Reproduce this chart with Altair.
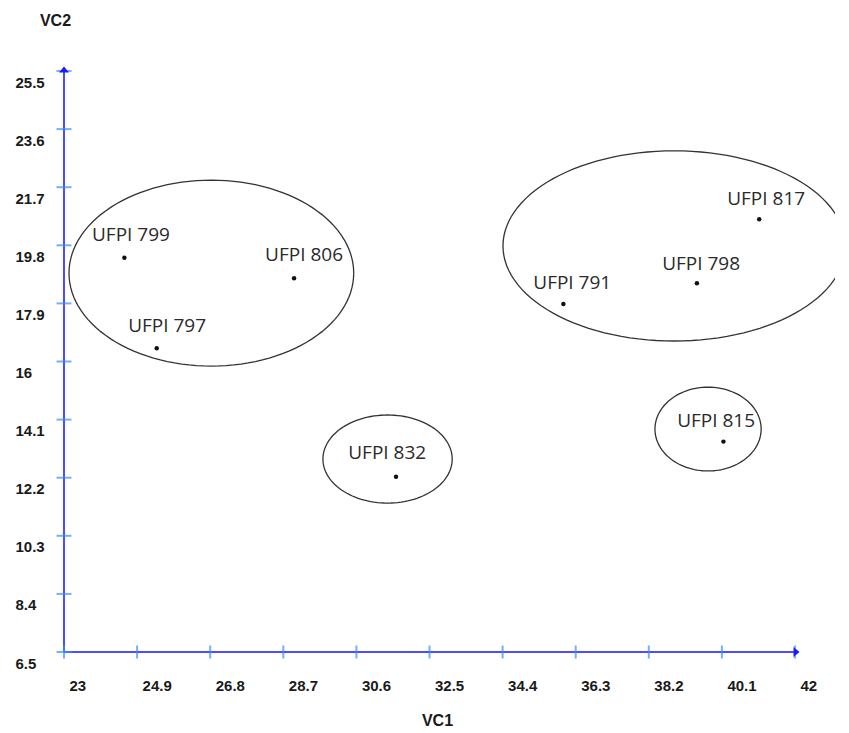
import altair as alt
import pandas as pd
import numpy as np

# ---- data ----
names = ["UFPI 799", "UFPI 806", "UFPI 797", "UFPI 817", "UFPI 798", "UFPI 791", "UFPI 832", "UFPI 815"]
vc1 = [24.57, 28.98, 25.41, 41.07, 39.45, 35.98, 31.63, 40.14]
vc2 = [19.39, 18.72, 16.43, 20.65, 18.56, 17.88, 12.23, 13.38]
label_vc1 = [24.74, 29.24, 25.68, 41.25, 39.56, 36.21, 31.40, 39.95]
label_vc2 = [20.14, 19.48, 17.16, 21.31, 19.19, 18.57, 13.01, 14.05]

ell_cx = [26.83, 38.86, 31.41, 39.74]
ell_cy = [18.89, 19.78, 12.81, 13.79]
ell_rx = [3.70, 4.45, 1.68, 1.38]
ell_ry = [3.04, 3.11, 1.44, 1.37]

x_ticks = [23, 24.9, 26.8, 28.7, 30.6, 32.5, 34.4, 36.3, 38.2, 40.1, 42]
y_ticks = [6.5, 8.4, 10.3, 12.2, 14.1, 16, 17.9, 19.8, 21.7, 23.6, 25.5]

AXIS_BLUE = "#4d4dff"
TICK_BLUE = "#3b8cff"

pts = pd.DataFrame({"name": names, "x": vc1, "y": vc2})
lbl = pd.DataFrame({"name": names, "x": label_vc1, "y": label_vc2})

# ellipse outlines (geometry from centres / radii)
t = np.linspace(0, 2 * np.pi, 121)
rows = []
for i, (cx, cy, rx, ry) in enumerate(zip(ell_cx, ell_cy, ell_rx, ell_ry)):
    for k, tt in enumerate(t):
        rows.append({"id": i, "o": k, "x": cx + rx * np.cos(tt), "y": cy + ry * np.sin(tt)})
ell = pd.DataFrame(rows)

xmin, xmax = x_ticks[0], x_ticks[-1]
ymin, ymax = y_ticks[0], y_ticks[-1]

xs = alt.Scale(domain=[xmin, xmax], nice=False, zero=False)
ys = alt.Scale(domain=[ymin, ymax], nice=False, zero=False)

x_axis = alt.Axis(
    values=x_ticks, format=".1~f", ticks=False, domain=False, grid=False,
    labelAlign="left", labelOffset=5, labelPadding=26, labelFlush=False,
    labelFont="Liberation Sans", labelFontWeight="bold", labelFontSize=15, labelColor="#1a1a1a",
    title="VC1", titleX=373, titleY=68, titleAlign="center", titleBaseline="middle",
    titleFont="Liberation Sans", titleFontWeight="bold", titleFontSize=16, titleColor="#1a1a1a",
)
y_axis = alt.Axis(
    values=y_ticks, format=".1~f", ticks=False, domain=False, grid=False,
    labelAlign="left", labelBaseline="middle", labelOffset=11, labelPadding=49, labelFlush=False,
    labelFont="Liberation Sans", labelFontWeight="bold", labelFontSize=15, labelColor="#1a1a1a",
    title="VC2", titleAngle=0, titleX=-9, titleY=-51, titleAlign="center", titleBaseline="middle",
    titleFont="Liberation Sans", titleFontWeight="bold", titleFontSize=16, titleColor="#1a1a1a",
)

X = alt.X("x:Q", scale=xs, axis=x_axis)
Y = alt.Y("y:Q", scale=ys, axis=y_axis)

ellipses = alt.Chart(ell).mark_line(color="#333333", strokeWidth=1.3, clip=False).encode(
    x=X, y=Y, detail="id:N", order="o:Q",
)

axis_lines = pd.DataFrame({"x": [xmin, xmin], "x2": [xmax, xmin], "y": [ymin, ymin], "y2": [ymin, ymax]})
rules = alt.Chart(axis_lines).mark_rule(color=AXIS_BLUE, strokeWidth=2, clip=False).encode(
    x=X, x2="x2:Q", y=Y, y2="y2:Q",
)

xt = pd.DataFrame({"x": x_ticks, "y": [ymin] * len(x_ticks)})
yt = pd.DataFrame({"x": [xmin] * len(y_ticks), "y": y_ticks})
xticks = alt.Chart(xt).mark_tick(orient="vertical", size=13, thickness=2, color=TICK_BLUE, clip=False).encode(
    x=X, y=Y)
yticks = alt.Chart(yt).mark_tick(orient="horizontal", size=15, thickness=2, color=TICK_BLUE, clip=False).encode(
    x=X, y=Y)

arrow_up = alt.Chart(pd.DataFrame({"x": [xmin], "y": [ymax]})).mark_point(
    shape="M -1 0.3 L 0 -0.9 L 1 0.3 Z", size=100, filled=True, color="#1a1aff", opacity=1, clip=False
).encode(x=X, y=Y)
arrow_right = alt.Chart(pd.DataFrame({"x": [xmax], "y": [ymin]})).mark_point(
    shape="M -0.3 -1 L 0.9 0 L -0.3 1 Z", size=100, filled=True, color="#1a1aff", opacity=1, clip=False
).encode(x=X, y=Y)

points = alt.Chart(pts).mark_circle(size=20, color="#111111", opacity=1).encode(x=X, y=Y)

labels = alt.Chart(lbl).mark_text(
    font="Open Sans", fontSize=19, color="#2a2a2a", align="center", baseline="middle", clip=False
).encode(x=X, y=Y, text="name:N")

chart = alt.layer(
    ellipses, rules, xticks, yticks, arrow_up, arrow_right, points, labels
).properties(
    width=731, height=581,
    padding={"left": 56, "top": 63, "right": 40, "bottom": 80},
    autosize=alt.AutoSizeParams(type="none"),
    background="white",
).configure_view(stroke=None)

chart.save("out.html", embed_options={"renderer": "svg", "actions": False})
